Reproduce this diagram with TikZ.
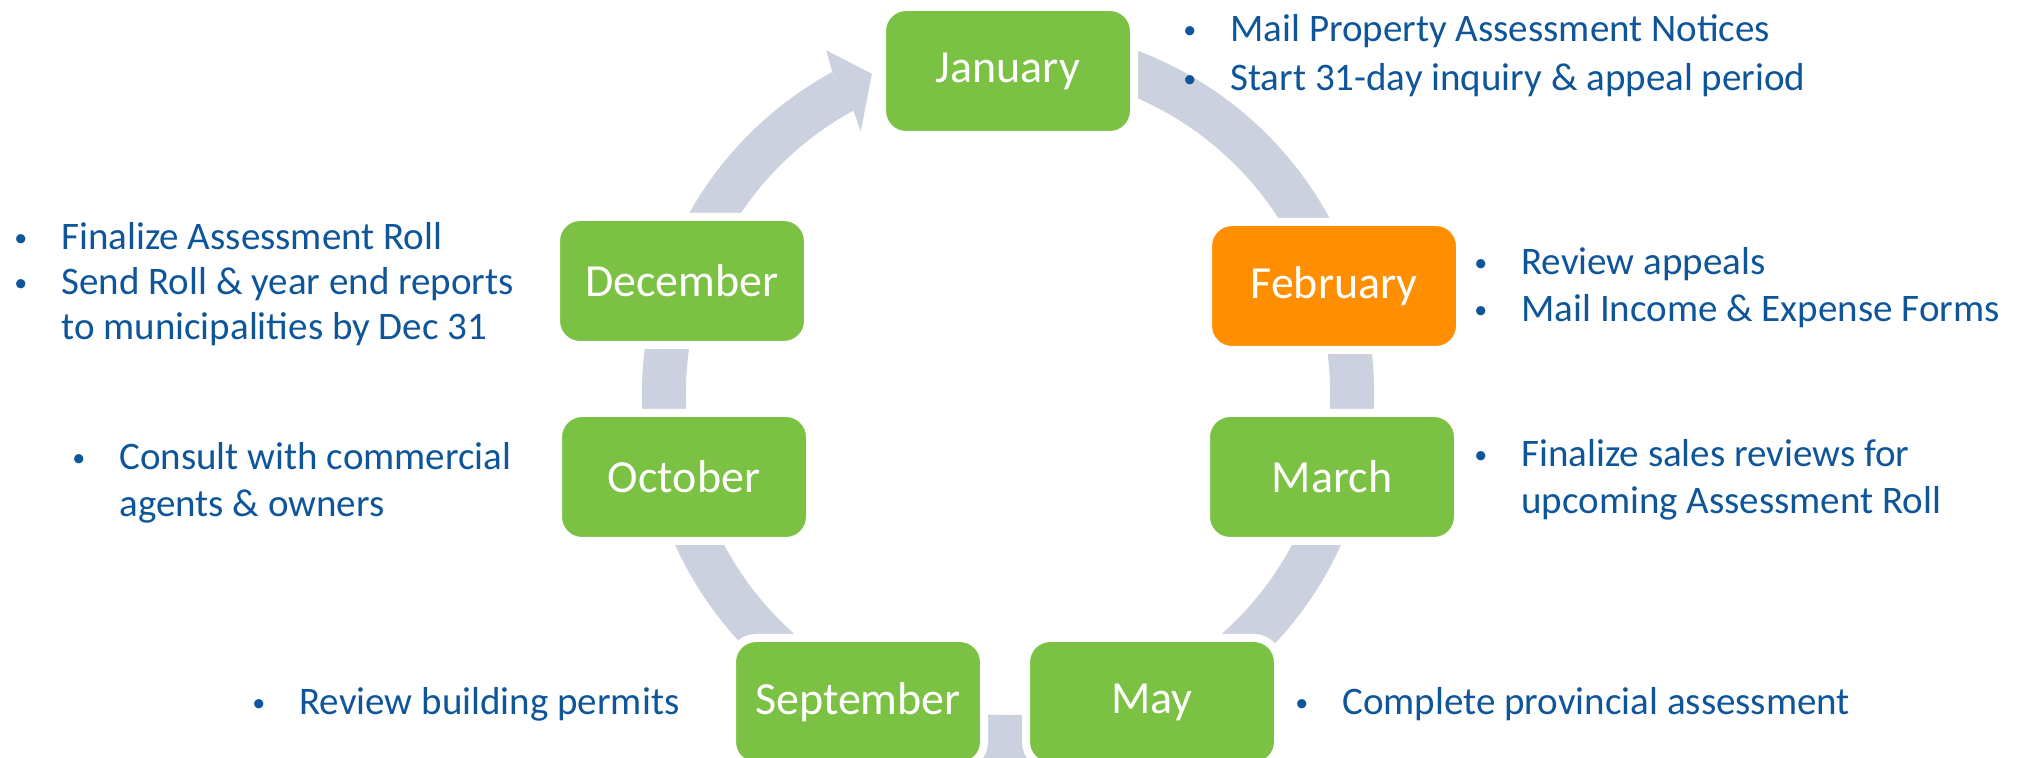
\documentclass[tikz,border=0pt]{standalone}
\usepackage{fontspec}
\setmainfont{Carlito}
\usetikzlibrary{positioning}
\definecolor{monthgreen}{HTML}{7BC143}
\definecolor{monthorange}{HTML}{FF8F00}
\definecolor{ringgray}{HTML}{CBD1DE}
\definecolor{noteblue}{HTML}{0E5599}
% small list bullet
\newcommand{\dotmark}{\raisebox{1.5pt}{\fontsize{13}{13}\selectfont\textbullet}}

\begin{document}
\begin{tikzpicture}[
        x=0.5pt, y=0.5pt,
        month/.style={rectangle, draw=white, line width=4pt, fill=monthgreen, rounded corners=12pt, minimum width=126pt, minimum height=64pt, inner sep=0pt, text=white, font=\fontsize{23}{27}\selectfont},
        current/.style={month, fill=monthorange},
        ring/.style={draw=ringgray, line width=22pt},
        notes/.style={anchor=west, inner sep=0pt, text=noteblue, font=\fontsize{19.5}{23.5}\selectfont, align=left}
    ]
    \useasboundingbox (0,0) rectangle (2024,-758);
    \coordinate (hub) at (1008,-393);

    % --- Cycle ring, open just before January ---
    \draw[ring, shift={(hub)}] (118.7:344) arc[start angle=118.7, end angle=470.8, radius=344];
    \fill[ringgray, shift={(hub)}] (118.7:366) -- (117.95:388) -- (113.1:347) -- (119.4:300) -- (118.7:322) -- cycle;

    % --- Month boxes ---
    \node[month] (jan) at (1008,-71) {January};
    \node[current] (feb) at (1334,-286) {February};
    \node[month] (mar) at (1332,-477) {March};
    \node[month] (may) at (1152,-702) {May};
    \node[month] (sep) at (858,-702) {September};
    \node[month] (oct) at (684,-477) {October};
    \node[month] (dec) at (682,-281) {December};

    % --- Tasks for each month ---
    \node[notes, font=\fontsize{19.5}{24.5}\selectfont] (jan_tasks) at (1183,-56) {\begin{tabular}{@{}p{23.5pt}@{}l@{}}
        \dotmark & Mail Property Assessment Notices\\
        \dotmark & Start 31-day inquiry \& appeal period
    \end{tabular}};
    \node[notes] (feb_tasks) at (1474,-289) {\begin{tabular}{@{}p{23.5pt}@{}l@{}}
        \dotmark & Review appeals\\
        \dotmark & Mail Income \& Expense Forms
    \end{tabular}};
    \node[notes] (mar_tasks) at (1474,-481) {\begin{tabular}{@{}p{23.5pt}@{}l@{}}
        \dotmark & Finalize sales reviews for\\
                 & upcoming Assessment Roll
    \end{tabular}};
    \node[notes] (may_tasks) at (1295,-705) {\begin{tabular}{@{}p{23.5pt}@{}l@{}}
        \dotmark & Complete provincial assessment
    \end{tabular}};
    \node[notes] (sep_tasks) at (252,-705) {\begin{tabular}{@{}p{23.5pt}@{}l@{}}
        \dotmark & Review building permits
    \end{tabular}};
    \node[notes] (oct_tasks) at (72,-484) {\begin{tabular}{@{}p{23.5pt}@{}l@{}}
        \dotmark & Consult with commercial\\
                 & agents \& owners
    \end{tabular}};
    \node[notes, font=\fontsize{19.5}{22.5}\selectfont] (dec_tasks) at (14,-286) {\begin{tabular}{@{}p{23.5pt}@{}l@{}}
        \dotmark & Finalize Assessment Roll\\
        \dotmark & Send Roll \& year end reports\\
                 & to municipalities by Dec 31
    \end{tabular}};
\end{tikzpicture}
\end{document}
